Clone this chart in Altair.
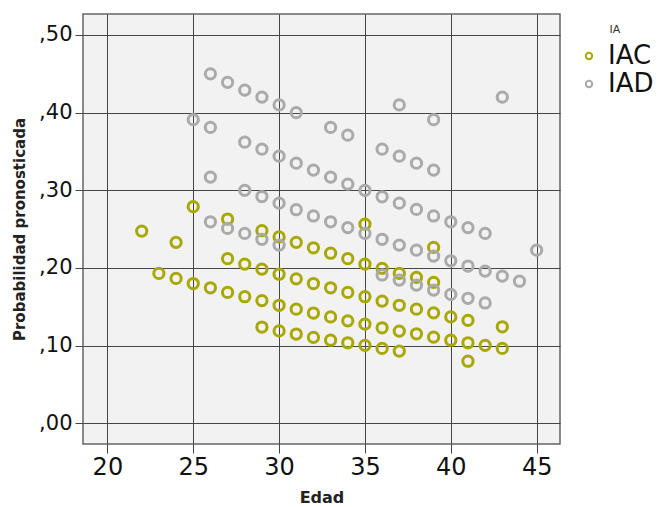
import altair as alt
import pandas as pd

# IAC series (olive)
iac_age = [22, 24, 25, 27, 35, 39, 43, 41,
           29, 30, 31, 32, 33, 34, 35, 36, 37, 38, 39,
           27, 28, 29, 30, 31, 32, 33, 34, 35, 36, 37, 38, 39, 40, 41,
           23, 24, 25, 26, 27, 28, 29, 30, 31, 32, 33, 34, 35, 36, 37, 38, 39, 40, 41, 42, 43,
           29, 30, 31, 32, 33, 34, 35, 36, 37]
iac_prob = [0.2475, 0.233, 0.279, 0.263, 0.2565, 0.2265, 0.1243, 0.080,
            0.248, 0.240, 0.233, 0.226, 0.219, 0.212, 0.205, 0.1995, 0.193, 0.188, 0.1815,
            0.212, 0.205, 0.1986, 0.192, 0.186, 0.180, 0.1745, 0.1686, 0.163, 0.1574, 0.152, 0.147, 0.1423, 0.137, 0.1326,
            0.193, 0.1866, 0.180, 0.1745, 0.1686, 0.163, 0.158, 0.152, 0.147, 0.142, 0.137, 0.132, 0.1278, 0.123, 0.1188, 0.1153, 0.111, 0.107, 0.1037, 0.1004, 0.0965,
            0.124, 0.119, 0.115, 0.1107, 0.107, 0.1037, 0.1004, 0.0965, 0.093]

# IAD series (gray)
iad_age = [26, 27, 28, 29, 30, 31, 33, 34, 36, 37, 38, 39,
           37, 39, 43, 45,
           25, 26, 28, 29, 30, 31, 32, 33, 34, 35, 36, 37, 38, 39, 40, 41, 42,
           26, 28, 29, 30, 31, 32, 33, 34, 35, 36, 37, 38, 39, 40, 41, 42, 43, 44,
           26, 27, 28, 29, 30, 36, 37, 38, 39, 40, 41, 42]
iad_prob = [0.450, 0.439, 0.429, 0.420, 0.410, 0.400, 0.381, 0.371, 0.353, 0.344, 0.335, 0.326,
            0.410, 0.391, 0.420, 0.223,
            0.391, 0.381, 0.362, 0.353, 0.344, 0.335, 0.326, 0.317, 0.308, 0.300, 0.2917, 0.2835, 0.2754, 0.267, 0.2595, 0.252, 0.2445,
            0.317, 0.300, 0.292, 0.2835, 0.275, 0.267, 0.2595, 0.252, 0.2445, 0.237, 0.2295, 0.223, 0.2153, 0.2093, 0.2025, 0.196, 0.1896, 0.183,
            0.2595, 0.251, 0.2445, 0.237, 0.2295, 0.191, 0.1844, 0.178, 0.1716, 0.166, 0.161, 0.155]

groups = ["IAC", "IAD"]
colors = ["#a8a800", "#aaaaaa"]
x_ticks = [20, 25, 30, 35, 40, 45]
y_ticks = [0.0, 0.1, 0.2, 0.3, 0.4, 0.5]

df = pd.concat([
    pd.DataFrame({"Edad": iac_age, "Prob": iac_prob, "IA": "IAC"}),
    pd.DataFrame({"Edad": iad_age, "Prob": iad_prob, "IA": "IAD"}),
], ignore_index=True)

FONT = "DejaVu Sans"

chart = alt.Chart(df).mark_point(
    filled=False, size=105, strokeWidth=3, opacity=1, shape="circle"
).encode(
    x=alt.X("Edad:Q",
            scale=alt.Scale(domain=[18.58, 46.36], nice=False, zero=False),
            axis=alt.Axis(values=x_ticks, title="Edad", labelFontSize=24,
                          titleFontSize=16, titleFontWeight="bold",
                          tickSize=9, labelPadding=2, titlePadding=10,
                          labelFlush=False)),
    y=alt.Y("Prob:Q",
            scale=alt.Scale(domain=[-0.0266, 0.527], nice=False, zero=False),
            axis=alt.Axis(values=y_ticks, title="Probabilidad pronosticada",
                          labelExpr="replace(format(datum.value, '.2f'), '0.', ',')",
                          labelFontSize=21, titleFontSize=15, titleFontWeight="bold",
                          tickSize=8, labelPadding=3, titlePadding=11,
                          labelFlush=False)),
    color=alt.Color("IA:N",
                    scale=alt.Scale(domain=groups, range=colors),
                    legend=alt.Legend(orient="none", legendX=493, legendY=10,
                                      title="IA", titleFontSize=11,
                                      titleFontWeight="normal", titleColor="#333",
                                      titleAnchor="middle", titleAlign="center",
                                      labelFontSize=26, labelColor="#111",
                                      symbolSize=40, symbolStrokeWidth=2,
                                      symbolType="circle", labelOffset=6,
                                      rowPadding=2, titlePadding=8)),
).properties(
    width=477, height=430,
    autosize=alt.AutoSizeParams(type="none"),
    padding={"left": 83, "top": 14, "right": 98, "bottom": 63},
    background="white",
).configure_view(
    fill="#f2f2f2", stroke="#666666", strokeWidth=1.5
).configure_axis(
    grid=True, gridColor="#454545", gridWidth=1, gridOpacity=1,
    domain=False, tickColor="#454545", tickWidth=1,
    labelColor="#111", titleColor="#222",
    labelFont=FONT, titleFont=FONT
).configure_legend(
    labelFont=FONT, titleFont=FONT
)

chart.save("out.html", embed_options={"renderer": "svg", "actions": False})
